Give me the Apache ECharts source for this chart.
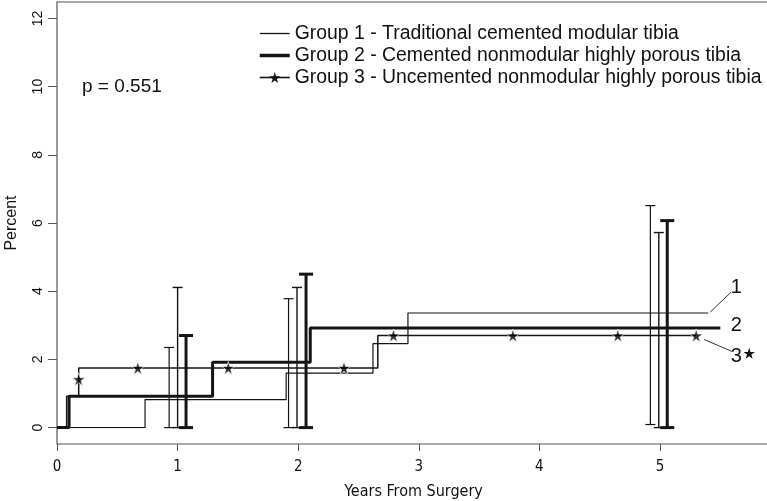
<!DOCTYPE html>
<html><head><meta charset="utf-8">
<script src="https://cdn.jsdelivr.net/npm/echarts@6/dist/echarts.min.js"></script>
<style>html,body{margin:0;padding:0;background:#fff}#c{width:767px;height:501px}</style>
</head><body><div id="c"></div>
<script>
// ---- data ----
const groupNames = [
  'Group 1 - Traditional cemented modular tibia',
  'Group 2 - Cemented nonmodular highly porous tibia',
  'Group 3 - Uncemented nonmodular highly porous tibia'
];
const group1Steps = [[0,0],[0.73,0.82],[1.90,1.60],[2.62,2.46],[2.91,3.36],[5.40,3.36]];
const group2Steps = [[0,0],[0.10,0.92],[1.29,1.92],[2.10,2.92],[5.50,2.92]];
const group3Steps = [[0,0],[0.08,0.92],[0.18,1.75],[2.66,2.70],[5.30,2.70]];
const group3Stars = [[0.18,1.42],[0.67,1.75],[1.42,1.75],[2.38,1.75],[2.79,2.70],[3.78,2.70],[4.65,2.70],[5.30,2.70]];
// [year, lower, upper]
const group1Err = [[0.93,0,2.35],[1.92,0,3.78],[4.92,0.09,6.51]];
const group3Err = [[1.00,0,4.11],[1.99,0,4.11],[4.99,0,5.72]];
const group2Err = [[1.07,0,2.70],[2.065,0,4.50],[5.06,0,6.07]];
const xTicks = [0,1,2,3,4,5];
const yTicks = [0,2,4,6,8,10,12];
const endLabels = [['1',5.40,3.36],['2',5.50,2.92],['3',5.30,2.70]];
const pValue = 'p = 0.551';
const xTitle = 'Years From Surgery';
const yTitle = 'Percent';

// ---- chart ----
const STAR_PTS = [[50,0],[61,35],[98,35],[68,57],[79,91],[50,70],[21,91],[32,57],[2,35],[39,35]];
const STAR = 'path://M' + STAR_PTS.map(p => p.join(',')).join(' L') + ' Z';
const INK = '#141414';
const AX = '#555';
const XMAX = 5.912;
const chart = echarts.init(document.getElementById('c'), null, {renderer:'canvas'});

function errSeries(data, lw, cap) {
  return {
    type:'custom', data, encode:{x:0, y:[1,2]}, silent:true, z:3,
    renderItem(params, api) {
      const x = api.value(0), lo = api.value(1), hi = api.value(2);
      const p1 = api.coord([x, hi]), p0 = api.coord([x, lo]);
      const style = {stroke:INK, lineWidth:lw, fill:null};
      return {type:'group', children:[
        {type:'line', shape:{x1:p0[0], y1:p0[1], x2:p1[0], y2:p1[1]}, style},
        {type:'line', shape:{x1:p1[0]-cap/2, y1:p1[1], x2:p1[0]+cap/2, y2:p1[1]}, style},
        {type:'line', shape:{x1:p0[0]-cap/2, y1:p0[1], x2:p0[0]+cap/2, y2:p0[1]}, style}
      ]};
    }
  };
}

const FONT = 'Liberation Sans, Arial, sans-serif';
const NARROW = 'Liberation Sans Narrow, DejaVu Sans Condensed, sans-serif';
const option = {
  animation:false,
  backgroundColor:'#fff',
  title:{text:pValue, left:82, top:77, padding:0, textStyle:{fontFamily:FONT, fontSize:19, fontWeight:'normal', color:'#111'}},
  legend:{
    orient:'vertical', left:258, top:24, padding:0, itemGap:3, itemWidth:30, itemHeight:14,
    data:[
      {name:groupNames[0], itemStyle:{opacity:0}, lineStyle:{width:1.3}},
      {name:groupNames[1], itemStyle:{opacity:0}, lineStyle:{width:3.5}},
      {name:groupNames[2], lineStyle:{width:1.6}}
    ],
    textStyle:{fontFamily:FONT, fontSize:19.4, lineHeight:19, color:'#111'}
  },
  grid:[
    {left:57, right:-3, top:18.4, bottom:73.4, show:false, outerBoundsMode:'none', containLabel:false},
    {left:57, right:-3, top:2, bottom:57, show:true, borderColor:AX, borderWidth:1.2, backgroundColor:'transparent', outerBoundsMode:'none', containLabel:false}
  ],
  xAxis:[
    {type:'value', gridIndex:0, min:0, max:XMAX, show:false},
    {type:'value', gridIndex:1, min:0, max:XMAX, interval:1,
     axisLine:{show:false}, splitLine:{show:false},
     axisTick:{length:7, lineStyle:{color:AX}, customValues:xTicks},
     axisLabel:{customValues:xTicks, margin:16, fontFamily:NARROW, fontSize:15, color:'#111'},
     name:xTitle, nameLocation:'middle', nameGap:40,
     nameTextStyle:{fontFamily:NARROW, fontSize:16, color:'#111'}}
  ],
  yAxis:[
    {type:'value', gridIndex:0, min:0, max:12, interval:2,
     axisLine:{show:false}, splitLine:{show:false},
     axisTick:{length:9, lineStyle:{color:AX}, customValues:yTicks},
     axisLabel:{customValues:yTicks, rotate:90, margin:12, fontFamily:FONT, fontSize:14, color:'#111'},
     name:yTitle, nameLocation:'middle', nameGap:37, nameRotate:90,
     nameTextStyle:{fontFamily:FONT, fontSize:16, color:'#111'}},
    {type:'value', gridIndex:1, min:0, max:1, show:false}
  ],
  series:[
    {name:groupNames[0], type:'line', step:'end', data:group1Steps, symbol:'none', z:4,
     lineStyle:{color:INK, width:1.2}, itemStyle:{color:INK}},
    {name:groupNames[1], type:'line', step:'end', data:group2Steps, symbol:'none', z:4,
     lineStyle:{color:INK, width:3}, itemStyle:{color:INK}},
    {name:groupNames[2], type:'line', step:'end', data:group3Steps, symbol:STAR, symbolSize:11, showSymbol:false, z:4,
     lineStyle:{color:INK, width:1.5}, itemStyle:{color:INK}},
    {type:'scatter', data:group3Stars, symbol:STAR, symbolSize:13, z:6, silent:true,
     itemStyle:{color:'#000', borderColor:'#fff', borderWidth:0.8}},
    errSeries(group1Err, 1.2, 10),
    errSeries(group3Err, 1.4, 10),
    errSeries(group2Err, 3, 14)
  ]
};
chart.setOption(option);

// end-of-curve labels with leader lines
const offs = [
  {dx:28, dy:-26, lead:[2,-1,23,-21]},
  {dx:16, dy:-3, lead:null},
  {dx:40, dy:21, lead:[8,4,36,16], star:[53,18]}
];
const gfx = [];
endLabels.forEach((l, i) => {
  const p = chart.convertToPixel({gridIndex:0}, [l[1], l[2]]);
  const o = offs[i];
  gfx.push({type:'text', x:p[0]+o.dx, y:p[1]+o.dy, style:{text:l[0], fontFamily:FONT, fontSize:20, fill:'#111', align:'center', verticalAlign:'middle'}, z:10});
  if (o.lead) gfx.push({type:'line', shape:{x1:p[0]+o.lead[0], y1:p[1]+o.lead[1], x2:p[0]+o.lead[2], y2:p[1]+o.lead[3]}, style:{stroke:'#333', lineWidth:1}, z:10});
  if (o.star) {
    const cx = p[0]+o.star[0], cy = p[1]+o.star[1], s = 0.12;
    gfx.push({type:'polygon', shape:{points:STAR_PTS.map(q => [cx + (q[0]-50)*s, cy + (q[1]-48)*s])}, style:{fill:INK}, z:10});
  }
});
chart.setOption({graphic:gfx});
</script>
</body></html>
